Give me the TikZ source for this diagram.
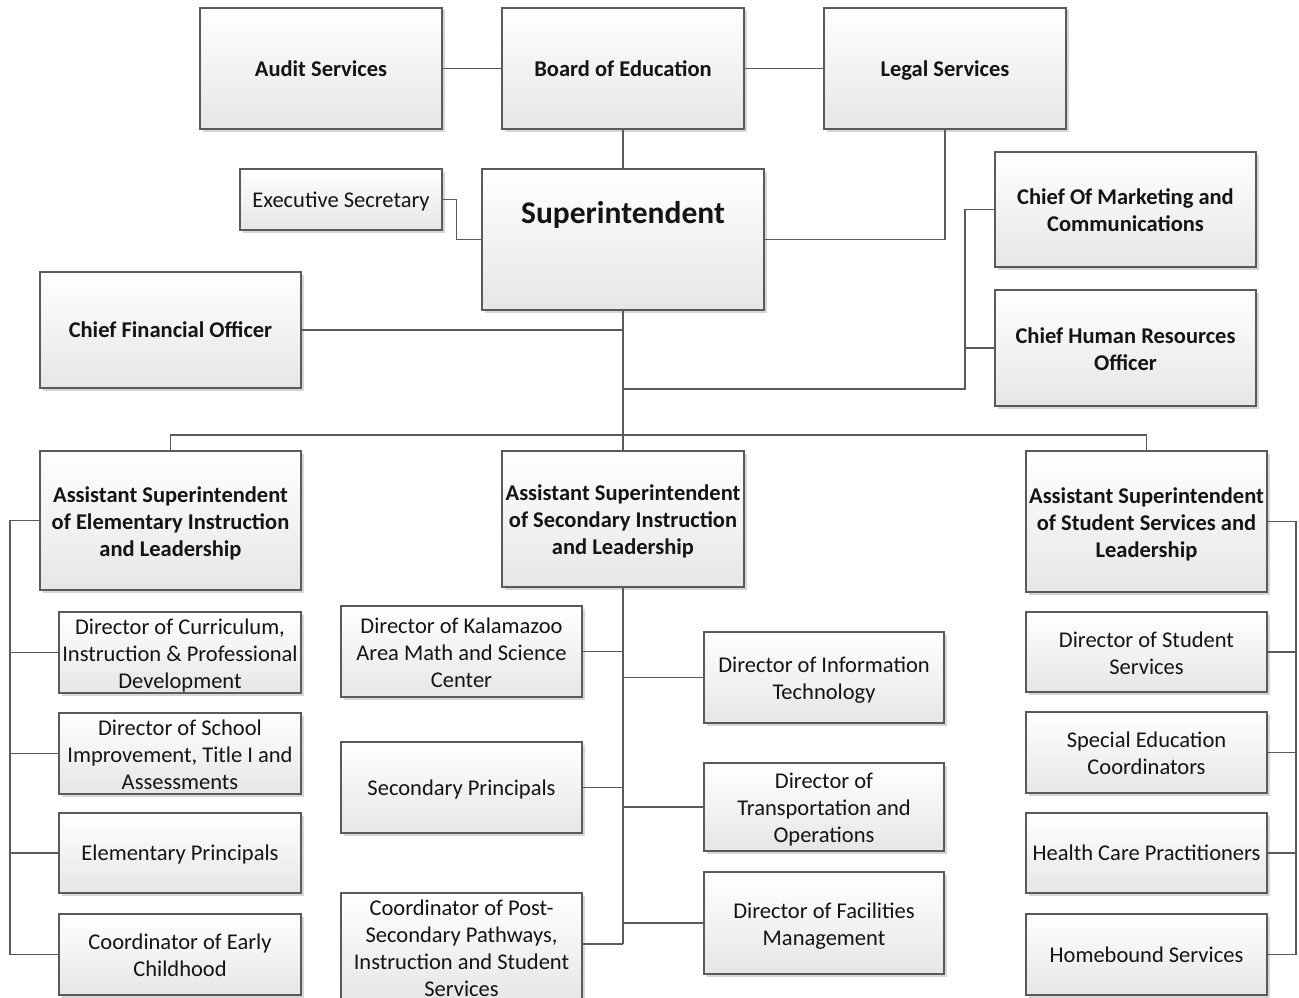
\documentclass[tikz,border=0pt]{standalone}
\usepackage{fontspec}
\setmainfont{Carlito}
\usetikzlibrary{shadows}
\definecolor{edgecol}{HTML}{5A5A5A}
\definecolor{boxbot}{HTML}{E6E6E6}
\definecolor{txtcol}{HTML}{141414}
\tikzset{
  orgbox/.style={draw=edgecol, line width=1.4pt, top color=white, bottom color=boxbot,
    drop shadow={shadow xshift=2.5pt, shadow yshift=-2.5pt, opacity=0.16, fill=black},
    inner sep=0pt, text=txtcol, font=\fontsize{22.5}{27}\selectfont},
  boldbox/.style={orgbox, font=\bfseries\fontsize{22.5}{27}\selectfont},
  link/.style={draw=edgecol, line width=1.4pt}
}
% #1 vertical shift of text, #2 style, #3 name, #4..#7 box corners in px, #8 text
\newcommand\placebox[8][-8.5pt]{%
  \node[#2, minimum width={(#6-#4)*1pt}, minimum height={(#7-#5)*1pt}]
    (#3) at ({(#4+#6)/2},{(#5+#7)/2})
    {\raisebox{#1}[0pt][0pt]{\begin{tabular}{@{}c@{}}#8\end{tabular}}};}
\begin{document}
\begin{tikzpicture}[x=1pt,y=-1pt]
\useasboundingbox (0,0) rectangle (1299,998);
% top row
\placebox[-7.5pt]{boldbox}{audit}{200}{8}{442}{129}{Audit Services}
\placebox[-7.5pt]{boldbox}{board}{502}{8}{744}{129}{Board of Education}
\placebox[-7.5pt]{boldbox}{legal}{824}{8}{1066}{129}{Legal Services}
\placebox[-7.5pt]{orgbox}{exec}{240}{169}{442}{230}{Executive Secretary}
\placebox[16.5pt]{boldbox, font=\bfseries\fontsize{31.5}{36}\selectfont}{sup}{482}{169}{764}{310}{Superintendent}
\placebox{boldbox}{mkt}{995}{152}{1256}{267}{Chief Of Marketing and\\Communications}
\placebox{boldbox}{chr}{995}{290}{1256}{406}{Chief Human Resources\\Officer}
\placebox[-7.5pt]{boldbox}{cfo}{40}{272}{301}{388}{Chief Financial Officer}
% assistant superintendents
\placebox{boldbox}{aelem}{40}{451}{301}{590}{Assistant Superintendent\\of Elementary Instruction\\and Leadership}
\placebox{boldbox}{asec}{502}{451}{744}{587}{Assistant Superintendent\\of Secondary Instruction\\and Leadership}
\placebox{boldbox}{astu}{1026}{451}{1267}{592}{Assistant Superintendent\\of Student Services and\\Leadership}
% elementary column
\placebox{orgbox}{curr}{59}{612}{301}{693}{Director of Curriculum,\\Instruction \& Professional\\Development}
\placebox{orgbox}{school}{59}{713}{301}{794}{Director of School\\Improvement, Title I and\\Assessments}
\placebox[-7.5pt]{orgbox}{eprin}{59}{813}{301}{893}{Elementary Principals}
\placebox{orgbox}{early}{59}{914}{301}{995}{Coordinator of Early\\Childhood}
% secondary columns
\placebox{orgbox}{kal}{341}{606}{582}{697}{Director of Kalamazoo\\Area Math and Science\\Center}
\placebox[-7.5pt]{orgbox}{sprin}{341}{742}{582}{833}{Secondary Principals}
\placebox{orgbox}{post}{341}{893}{582}{1001}{Coordinator of Post-\\Secondary Pathways,\\Instruction and Student\\Services}
\placebox{orgbox}{it}{704}{632}{944}{723}{Director of Information\\Technology}
\placebox{orgbox}{trans}{704}{763}{944}{851}{Director of\\Transportation and\\Operations}
\placebox{orgbox}{fac}{704}{872}{944}{974}{Director of Facilities\\Management}
% student services column
\placebox{orgbox}{dss}{1026}{612}{1267}{692}{Director of Student\\Services}
\placebox{orgbox}{sped}{1026}{712}{1267}{793}{Special Education\\Coordinators}
\placebox[-7.5pt]{orgbox}{health}{1026}{813}{1267}{893}{Health Care Practitioners}
\placebox[-7.5pt]{orgbox}{home}{1026}{914}{1267}{995}{Homebound Services}
% connectors top
\draw[link] (audit.east) -- (board.west);
\draw[link] (board.east) -- (legal.west);
\draw[link] (board.south) -- (sup.north);
\draw[link] (exec.east) -- ++(14,0) |- (sup.west);
\draw[link] (legal.south) |- (sup.east);
\draw[link] (sup.south) -- (asec.north);
\draw[link] (cfo.east) -- (cfo.east -| sup.south);
\coordinate (cm) at (965,389);
\draw[link] (sup.south |- cm) -- (cm) |- (mkt.west);
\draw[link] (cm) |- (chr.west);
\coordinate (hb) at (0,435);
\draw[link] (aelem.north) -- (aelem.north |- hb) -- (astu.north |- hb) -- (astu.north);
% left bus
\coordinate (lb) at (10,0);
\draw[link] (aelem.west) -- (aelem.west -| lb) |- (early.west);
\draw[link] (lb |- curr.west) -- (curr.west);
\draw[link] (lb |- school.west) -- (school.west);
\draw[link] (lb |- eprin.west) -- (eprin.west);
% middle bus
\coordinate (mb) at (623,944);
\draw[link] (asec.south) -- (asec.south |- mb);
\draw[link] (kal.east) -- (kal.east -| asec.south);
\draw[link] (sprin.east) -- (sprin.east -| asec.south);
\draw[link] (post.east |- mb) -- (mb);
\draw[link] (it.west) -- (it.west -| asec.south);
\draw[link] (trans.west) -- (trans.west -| asec.south);
\draw[link] (fac.west) -- (fac.west -| asec.south);
% right bus
\coordinate (rb) at (1296,0);
\draw[link] (astu.east) -- (astu.east -| rb) |- (home.east);
\draw[link] (rb |- dss.east) -- (dss.east);
\draw[link] (rb |- sped.east) -- (sped.east);
\draw[link] (rb |- health.east) -- (health.east);
\end{tikzpicture}
\end{document}
